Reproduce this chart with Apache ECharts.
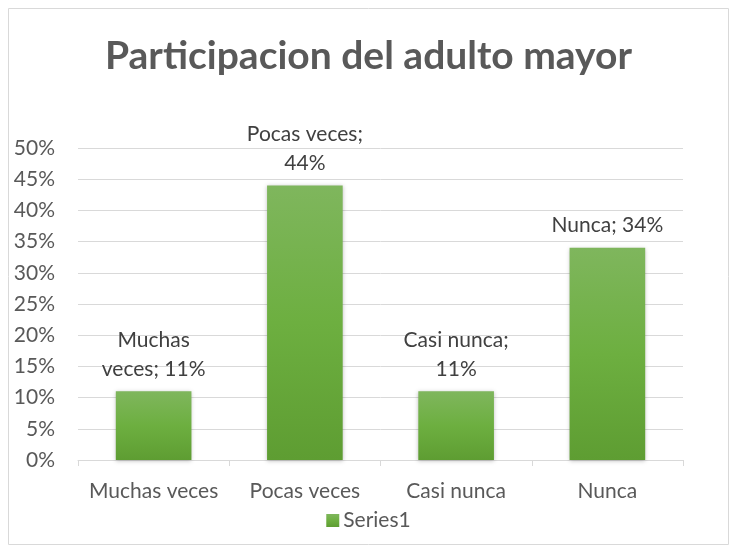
<!DOCTYPE html>
<html>
<head>
<meta charset="utf-8">
<script src="https://cdn.jsdelivr.net/npm/echarts@6/dist/echarts.min.js"></script>
<style>
  html, body { margin: 0; padding: 0; background: #fff; }
  #chart { width: 737px; height: 552px; }
</style>
</head>
<body>
<div id="chart"></div>
<script>
const categories = ['Muchas veces', 'Pocas veces', 'Casi nunca', 'Nunca'];
const values = [11, 44, 11, 34];
const labelTexts = ['Muchas\nveces; 11%', 'Pocas veces;\n44%', 'Casi nunca;\n11%', 'Nunca; 34%'];
const yTicks = { min: 0, max: 50, interval: 5 };

const font = 'Lato, "Open Sans", sans-serif';
const barFill = new echarts.graphic.LinearGradient(0, 0, 0, 1, [
  { offset: 0, color: '#7fb65d' },
  { offset: 0.5, color: '#6daf40' },
  { offset: 1, color: '#5e9d32' }
]);

const chart = echarts.init(document.getElementById('chart'));
chart.setOption({
  animation: false,
  textStyle: { fontFamily: font },
  graphic: [{
    type: 'rect',
    shape: { x: 8.5, y: 8.5, width: 720, height: 536 },
    style: { fill: 'none', stroke: '#d9d9d9', lineWidth: 1 },
    silent: true
  }],
  title: {
    text: 'Participacion del adulto mayor',
    left: 'center',
    top: 32,
    textStyle: { fontFamily: font, fontWeight: 'bold', fontSize: 39, color: '#595959' }
  },
  legend: {
    bottom: 16,
    left: 'center',
    itemWidth: 13,
    itemHeight: 13,
    itemGap: 4,
    icon: 'rect',
    textStyle: { fontFamily: font, fontSize: 21, color: '#595959', padding: [0, 0, 0, -1] },
    data: ['Series1']
  },
  grid: { left: 78, right: 54, top: 148, bottom: 92 },
  xAxis: {
    type: 'category',
    data: categories,
    axisLine: { lineStyle: { color: '#d9d9d9', width: 1 } },
    axisTick: { show: true, length: 6, lineStyle: { color: '#d9d9d9' } },
    axisLabel: { color: '#595959', fontSize: 21, fontFamily: font, margin: 21, interval: 0, hideOverlap: false }
  },
  yAxis: {
    type: 'value',
    min: yTicks.min,
    max: yTicks.max,
    interval: yTicks.interval,
    axisLine: { show: false },
    axisTick: { show: false },
    splitLine: { lineStyle: { color: '#d9d9d9', width: 1 } },
    axisLabel: { color: '#595959', fontSize: 21, fontFamily: font, margin: 23, formatter: '{value}%' }
  },
  series: [{
    name: 'Series1',
    type: 'bar',
    barWidth: '50%',
    data: values.map((v, i) => ({
      value: v,
      label: { formatter: labelTexts[i] }
    })),
    itemStyle: {
      color: barFill,
      shadowColor: 'rgba(0,0,0,0.25)',
      shadowBlur: 4,
      shadowOffsetX: 0,
      shadowOffsetY: 1
    },
    label: {
      show: true,
      position: 'top',
      distance: 8,
      color: '#404040',
      fontSize: 21,
      fontFamily: font,
      lineHeight: 29,
      align: 'center'
    }
  }]
});
</script>
</body>
</html>
